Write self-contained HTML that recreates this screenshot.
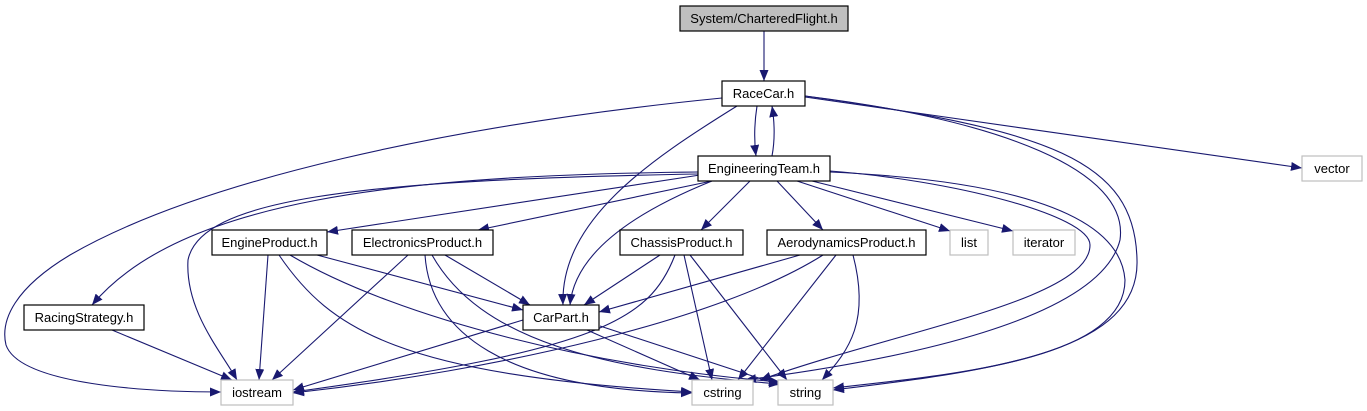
<!DOCTYPE html>
<html><head><meta charset="utf-8"><style>
html,body{margin:0;padding:0;background:#fff;}
svg{display:block;}
text{font-family:"Liberation Sans",sans-serif;font-size:13px;fill:#000;}
</style></head><body>
<svg width="1367" height="411" viewBox="0 0 1367 411" xmlns="http://www.w3.org/2000/svg">
<defs>
<marker id="a" markerUnits="userSpaceOnUse" markerWidth="12" markerHeight="10" refX="11" refY="4.5" orient="auto">
<path d="M0,0 L11,4.5 L0,9 z" fill="#191970"/>
</marker>
</defs>
<g fill="none" stroke="#191970" stroke-width="1.1" marker-end="url(#a)">
<path d="M764,31 L764,81"/>
<path d="M757,106 C754,125 754,140 756,156"/>
<path d="M772,156 C775,140 775,125 772,106"/>
<path d="M722,98 C450,125 200,180 70,255 C15,288 0,320 6,345 C20,385 150,392 221,392"/>
<path d="M737,106 C650,160 560,220 563,305"/>
<path d="M805,97 L1302,168"/>
<path d="M805,96 C1000,120 1130,170 1120,240 C1100,320 900,360 745,380"/>
<path d="M805,96 C1050,130 1135,160 1137,260 C1140,350 1000,370 833,390"/>
<path d="M830,172 C1000,180 1120,210 1125,280 C1125,360 950,375 833,388"/>
<path d="M830,171 C950,180 1090,215 1090,245 C1090,300 900,330 760,380"/>
<path d="M700,175 L327,232"/>
<path d="M712,181 L478,230"/>
<path d="M750,181 L701,230"/>
<path d="M777,181 L823,230"/>
<path d="M797,181 L950,231"/>
<path d="M812,181 L1013,231"/>
<path d="M698,172 C400,175 180,200 92,305"/>
<path d="M698,174 C350,180 200,200 188,260 C185,310 220,350 237,380"/>
<path d="M712,181 C640,210 575,250 570,305"/>
<path d="M268,255 L259,380"/>
<path d="M317,255 L523,310"/>
<path d="M279,255 C330,330 400,375 692,392"/>
<path d="M290,255 C400,320 600,368 780,382"/>
<path d="M408,255 L272,380"/>
<path d="M445,255 L530,305"/>
<path d="M425,255 C430,330 500,390 692,393"/>
<path d="M432,255 C480,340 600,370 780,384"/>
<path d="M112,330 L232,380"/>
<path d="M523,320 L293,390"/>
<path d="M587,330 L700,380"/>
<path d="M600,326 L780,385"/>
<path d="M660,255 L584,305"/>
<path d="M675,255 C650,320 600,350 293,392"/>
<path d="M684,255 L712,380"/>
<path d="M690,255 L787,380"/>
<path d="M800,255 L599,312"/>
<path d="M823,255 C720,320 500,370 293,393"/>
<path d="M836,255 L738,380"/>
<path d="M853,255 C870,320 850,350 822,380"/>
</g>
<g stroke-width="1.2">
<rect x="680" y="6" width="168" height="25" fill="#bfbfbf" stroke="#000"/>
<rect x="722" y="81" width="83" height="25" fill="#fff" stroke="#000"/>
<rect x="698" y="156" width="132" height="25" fill="#fff" stroke="#000"/>
<rect x="1302" y="156" width="60" height="25" fill="#fff" stroke="#bfbfbf"/>
<rect x="212" y="230" width="115" height="25" fill="#fff" stroke="#000"/>
<rect x="352" y="230" width="141" height="25" fill="#fff" stroke="#000"/>
<rect x="620" y="230" width="123" height="25" fill="#fff" stroke="#000"/>
<rect x="767" y="230" width="159" height="25" fill="#fff" stroke="#000"/>
<rect x="950" y="230" width="38" height="25" fill="#fff" stroke="#bfbfbf"/>
<rect x="1013" y="230" width="62" height="25" fill="#fff" stroke="#bfbfbf"/>
<rect x="24" y="305" width="120" height="25" fill="#fff" stroke="#000"/>
<rect x="523" y="305" width="76" height="25" fill="#fff" stroke="#000"/>
<rect x="221" y="380" width="72" height="25" fill="#fff" stroke="#bfbfbf"/>
<rect x="692" y="380" width="61" height="25" fill="#fff" stroke="#bfbfbf"/>
<rect x="778" y="380" width="55" height="25" fill="#fff" stroke="#bfbfbf"/>
</g>
<g text-anchor="middle">
<text x="764" y="23">System/CharteredFlight.h</text>
<text x="763.5" y="98">RaceCar.h</text>
<text x="764" y="173">EngineeringTeam.h</text>
<text x="1332" y="173">vector</text>
<text x="269.5" y="247">EngineProduct.h</text>
<text x="422.5" y="247">ElectronicsProduct.h</text>
<text x="681.5" y="247">ChassisProduct.h</text>
<text x="846.5" y="247">AerodynamicsProduct.h</text>
<text x="969" y="247">list</text>
<text x="1044" y="247">iterator</text>
<text x="84" y="322">RacingStrategy.h</text>
<text x="561" y="322">CarPart.h</text>
<text x="257" y="397">iostream</text>
<text x="722.5" y="397">cstring</text>
<text x="805.5" y="397">string</text>
</g>
</svg>
</body></html>
